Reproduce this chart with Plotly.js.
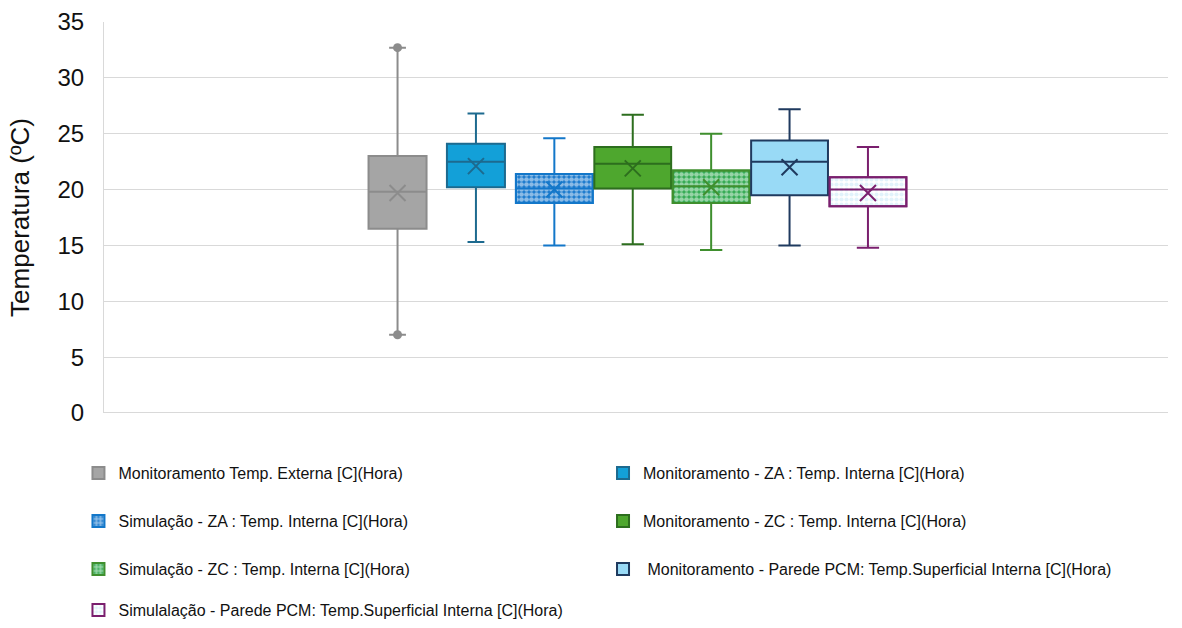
<!DOCTYPE html>
<html>
<head>
<meta charset="utf-8">
<script src="https://cdn.plot.ly/plotly-3.0.1.min.js"></script>
<style>html,body{margin:0;padding:0;background:#fff;}#chart{width:1182px;height:628px;}</style>
</head>
<body>
<div id="chart"></div>
<script>
// ---- data ----
var seriesNames = [
  "Monitoramento Temp. Externa [C](Hora)",
  "Monitoramento - ZA : Temp. Interna [C](Hora)",
  "Simulação - ZA : Temp. Interna [C](Hora)",
  "Monitoramento - ZC : Temp. Interna [C](Hora)",
  "Simulação - ZC : Temp. Interna [C](Hora)",
  "\u00a0Monitoramento - Parede PCM: Temp.Superficial Interna [C](Hora)",
  "Simulalação - Parede PCM: Temp.Superficial Interna [C](Hora)"
];
var categories = ["ExtMon", "ZAMon", "ZASim", "ZCMon", "ZCSim", "PCMMon", "PCMSim"];
var minValues    = [7.0, 15.3, 15.0, 15.1, 14.6, 15.0, 14.8];
var q1Values     = [16.5, 20.2, 18.8, 20.1, 18.8, 19.5, 18.5];
var medianValues = [19.8, 22.5, 20.1, 22.3, 20.3, 22.5, 20.0];
var q3Values     = [23.0, 24.1, 21.4, 23.8, 21.7, 24.4, 21.1];
var maxValues    = [32.7, 26.8, 24.6, 26.7, 25.0, 27.2, 23.8];
var meanValues   = [19.7, 22.1, 20.0, 21.9, 20.2, 22.0, 19.7];
var outlierSeries = [0]; // series drawn with end-point dots

// ---- styles ----
var isSim      = [false, false, true, false, true, false, true];
var fillColors = ["#A5A5A5", "#13A0D8", "#1677CC", "#4EA72E", "#2FA84F", "#99DAF6", "#C4E7F8"];
var lineColors = ["#8C8C8C", "#1D6A8F", "#1377C9", "#2D6E1E", "#3F8F2E", "#1F3A5F", "#7A1F6E"];
var boxWidths  = [0.74, 0.74, 0.98, 0.98, 0.98, 0.98, 0.98];
var legendX    = [-0.024, 0.469, -0.024, 0.469, -0.024, 0.469, -0.024];
var legendY    = [0.2558, 0.2558, 0.1766, 0.1766, 0.0974, 0.0974, 0.0297];

var traces = [];
var layout = {
  width: 1182, height: 628,
  margin: {l: 104, r: 14, t: 22, b: 0, pad: 0},
  paper_bgcolor: "#ffffff", plot_bgcolor: "#ffffff",
  font: {family: "Liberation Sans, Arial, sans-serif", color: "#111111"},
  showlegend: true,
  barmode: "overlay", boxmode: "overlay",
  xaxis: {
    type: "category", categoryorder: "array", categoryarray: categories,
    range: [-3.744, 9.827], showticklabels: false, showgrid: false,
    zeroline: false, showline: false, ticks: "", fixedrange: true, automargin: false
  },
  yaxis: {
    domain: [0.3548, 1],
    range: [0, 35], dtick: 5, tick0: 0,
    showgrid: true, gridcolor: "#D9D9D9", gridwidth: 1,
    zeroline: true, zerolinecolor: "#D9D9D9", zerolinewidth: 1,
    showline: true, linecolor: "#D9D9D9", linewidth: 1,
    ticks: "", ticklabelstandoff: 14, automargin: false,
    tickfont: {size: 24, color: "#111111"},
    title: {text: "Temperatura (ºC)", font: {size: 26, color: "#111111"}, standoff: 20},
    fixedrange: true
  }
};

for (var i = 0; i < categories.length; i++) {
  var legName = i === 0 ? "legend" : "legend" + (i + 1);
  layout[legName] = {
    x: legendX[i], y: legendY[i], xanchor: "left", yanchor: "middle",
    orientation: "v", bgcolor: "rgba(0,0,0,0)",
    font: {size: 16, color: "#111111", family: "Liberation Sans, Arial, sans-serif"}
  };
  if (isSim[i]) {
    var pat = (i === 6)
      ? {shape: ".", bgcolor: "#ffffff", fgcolor: fillColors[i], size: 5, solidity: 0.55, fillmode: "overlay"}
      : {shape: ".", bgcolor: fillColors[i], fgcolor: "#ffffff", size: 5, solidity: 0.7, fillmode: "overlay"};
    traces.push({
      type: "bar", x: [categories[i]], y: [q3Values[i] - q1Values[i]], base: [q1Values[i]],
      width: boxWidths[i], name: seriesNames[i], legend: legName,
      marker: {color: i === 6 ? "#ffffff" : fillColors[i], pattern: pat,
               line: {color: lineColors[i], width: 2}},
      hoverinfo: "skip", showlegend: true
    });
  }
  traces.push({
    type: "box", x: [categories[i]],
    q1: [q1Values[i]], median: [medianValues[i]], q3: [q3Values[i]],
    lowerfence: [minValues[i]], upperfence: [maxValues[i]],
    boxpoints: false, width: boxWidths[i], whiskerwidth: 0.29,
    fillcolor: isSim[i] ? "rgba(0,0,0,0)" : fillColors[i],
    line: {color: lineColors[i], width: 2},
    name: seriesNames[i], legend: legName, showlegend: !isSim[i]
  });
  traces.push({
    type: "scatter", mode: "markers", x: [categories[i]], y: [meanValues[i]],
    marker: {symbol: "x-thin", size: 16, line: {color: lineColors[i], width: 2}, color: lineColors[i]},
    showlegend: false, hoverinfo: "skip"
  });
}
outlierSeries.forEach(function (k) {
  traces.push({
    type: "scatter", mode: "markers", x: [categories[k], categories[k]], y: [minValues[k], maxValues[k]],
    marker: {symbol: "circle", size: 9, color: lineColors[k]},
    showlegend: false, hoverinfo: "skip"
  });
});

Plotly.newPlot("chart", traces, layout, {displayModeBar: false, staticPlot: true});
</script>
</body>
</html>
